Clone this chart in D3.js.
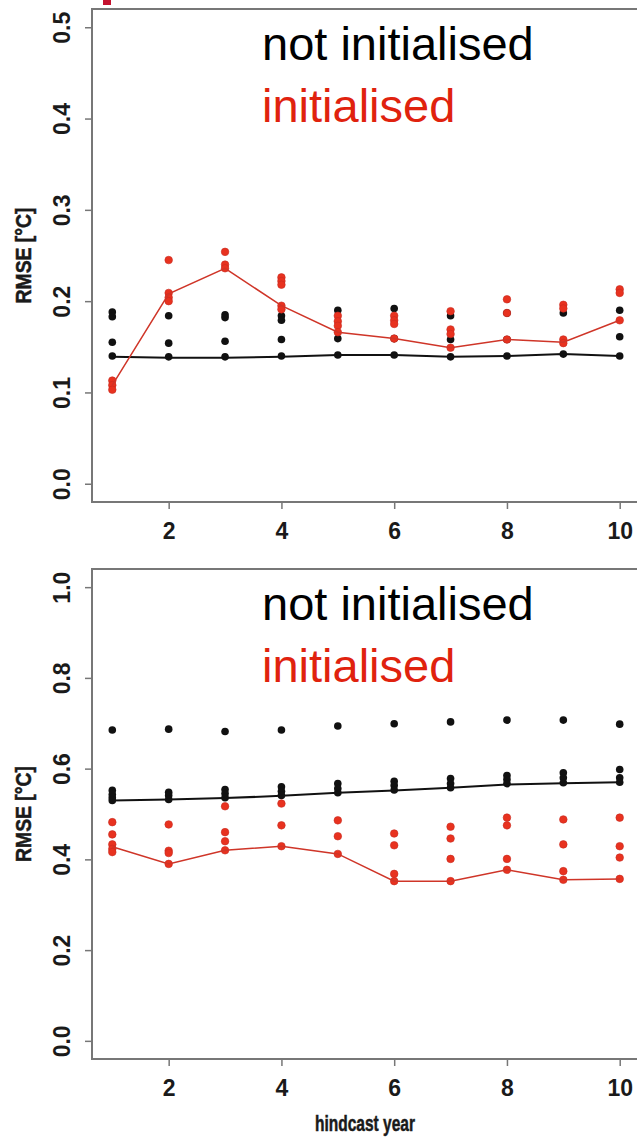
<!DOCTYPE html>
<html>
<head>
<meta charset="utf-8">
<script src="https://cdn.jsdelivr.net/npm/d3@7"></script>
<style>
  body { margin: 0; background: #fff; }
  svg { display: block; font-family: "Liberation Sans", Arial, sans-serif; }
</style>
</head>
<body>
<div id="chart"></div>
<script>
// Hindcast years and tick labels
const years = [1, 2, 3, 4, 5, 6, 7, 8, 9, 10];
const xTicks = [2, 4, 6, 8, 10];
const topYTicks = [0, 0.1, 0.2, 0.3, 0.4, 0.5];
const bottomYTicks = [0, 0.2, 0.4, 0.6, 0.8, 1.0];

// Top panel: lines and individual points per year
const topBlackLine = [0.139, 0.138, 0.138, 0.139, 0.141, 0.141, 0.139, 0.140, 0.142, 0.140];
const topRedLine = [0.108, 0.208, 0.236, 0.195, 0.166, 0.159, 0.149, 0.158, 0.155, 0.179];
const topBlackDots = [
    [0.188, 0.183, 0.155, 0.140],
    [0.184, 0.154, 0.139],
    [0.185, 0.182, 0.156, 0.139],
    [0.184, 0.179, 0.158, 0.140],
    [0.190, 0.159, 0.141],
    [0.192, 0.159, 0.141],
    [0.184, 0.158, 0.139],
    [0.187, 0.158, 0.140],
    [0.187, 0.142],
    [0.190, 0.161, 0.140]
];
const topRedDots = [
    [0.113, 0.108, 0.103],
    [0.245, 0.209, 0.204, 0.200],
    [0.254, 0.240, 0.236],
    [0.226, 0.222, 0.218, 0.195, 0.191],
    [0.184, 0.178, 0.173, 0.166],
    [0.184, 0.179, 0.175, 0.159],
    [0.189, 0.169, 0.164, 0.149],
    [0.202, 0.187, 0.158],
    [0.196, 0.192, 0.158, 0.154],
    [0.213, 0.209, 0.179]
];

// Bottom panel
const bottomBlackLine = [0.530, 0.532, 0.535, 0.540, 0.547, 0.552, 0.558, 0.565, 0.568, 0.570];
const bottomRedLine = [0.428, 0.390, 0.420, 0.429, 0.412, 0.352, 0.352, 0.377, 0.355, 0.357];
const bottomBlackDots = [
    [0.685, 0.552, 0.543, 0.536, 0.530],
    [0.687, 0.548, 0.541, 0.532],
    [0.682, 0.554, 0.545, 0.536],
    [0.685, 0.560, 0.550, 0.541],
    [0.694, 0.567, 0.556, 0.547],
    [0.699, 0.572, 0.563, 0.553],
    [0.703, 0.578, 0.567, 0.558],
    [0.707, 0.585, 0.576, 0.567],
    [0.707, 0.591, 0.580, 0.569],
    [0.698, 0.598, 0.580, 0.570]
];
const bottomRedDots = [
    [0.482, 0.455, 0.433, 0.423, 0.416],
    [0.477, 0.419, 0.414, 0.390],
    [0.517, 0.460, 0.440, 0.420],
    [0.523, 0.475, 0.429],
    [0.486, 0.451, 0.412],
    [0.457, 0.431, 0.368, 0.352],
    [0.472, 0.446, 0.401, 0.352],
    [0.492, 0.475, 0.401, 0.377],
    [0.488, 0.433, 0.374, 0.355],
    [0.492, 0.429, 0.404, 0.357]
];

const W = 637, H = 1137;
const svg = d3.select("#chart").append("svg")
    .attr("width", W)
    .attr("height", H);

// small red mark cut off at the top edge
svg.append("rect")
    .attr("x", 103).attr("y", 0)
    .attr("width", 8).attr("height", 5)
    .attr("fill", "#c4122f");

const x = d3.scaleLinear().domain([0.64, 10.36]).range([92, 640]);

function drawPanel(opt) {
    const y = d3.scaleLinear().domain(opt.domain).range([opt.bottom, opt.top]);
    const g = svg.append("g");

    // y axis with rotated labels
    const yAxis = g.append("g")
        .attr("transform", `translate(${x.range()[0]},0)`)
        .call(d3.axisLeft(y).tickValues(opt.yTicks).tickSize(7).tickFormat(d3.format(".1f")));
    yAxis.select(".domain").remove();
    yAxis.selectAll(".tick line").attr("stroke", "#777").attr("stroke-width", 1.5);
    yAxis.selectAll(".tick text")
        .attr("transform", "rotate(-90)")
        .attr("x", 0).attr("y", -22).attr("dy", null)
        .attr("text-anchor", "middle")
        .attr("font-size", 23).attr("font-weight", "bold").attr("fill", "#1a1a1a");

    // x axis
    const xAxis = g.append("g")
        .attr("transform", `translate(0,${opt.bottom})`)
        .call(d3.axisBottom(x).tickValues(xTicks).tickSize(7).tickFormat(d3.format("d")));
    xAxis.select(".domain").remove();
    xAxis.selectAll(".tick line").attr("stroke", "#777").attr("stroke-width", 1.5);
    xAxis.selectAll(".tick text")
        .attr("y", 37).attr("dy", null)
        .attr("font-size", 23).attr("font-weight", "bold").attr("fill", "#1a1a1a");

    // plot box
    g.append("rect")
        .attr("x", x.range()[0]).attr("y", opt.top)
        .attr("width", x.range()[1] - x.range()[0])
        .attr("height", opt.bottom - opt.top)
        .attr("fill", "none").attr("stroke", "#777").attr("stroke-width", 2);

    // y title (narrow bold face in the original)
    g.append("text")
        .attr("transform", `translate(31,${(opt.top + opt.bottom) / 2}) rotate(-90)`)
        .attr("text-anchor", "middle")
        .attr("font-size", 22).attr("font-weight", "bold").attr("fill", "#1a1a1a")
        .attr("stroke", "#1a1a1a").attr("stroke-width", 0.5)
        .attr("textLength", 96).attr("lengthAdjust", "spacingAndGlyphs")
        .text("RMSE [°C]");

    const line = d3.line().x((d, i) => x(years[i])).y(d => y(d));

    const flat = dots => dots.flatMap((vals, i) => vals.map(v => ({ yr: years[i], v })));

    g.append("g").selectAll("circle")
        .data(flat(opt.blackDots)).join("circle")
        .attr("cx", d => x(d.yr)).attr("cy", d => y(d.v))
        .attr("r", 3.8).attr("fill", "#111");

    g.append("path")
        .attr("d", line(opt.blackLine))
        .attr("fill", "none").attr("stroke", "#111").attr("stroke-width", 2);

    g.append("g").selectAll("circle")
        .data(flat(opt.redDots)).join("circle")
        .attr("cx", d => x(d.yr)).attr("cy", d => y(d.v))
        .attr("r", 3.8).attr("fill", "#e8321f")
        .attr("stroke", "#c82a20").attr("stroke-width", 0.6);

    g.append("path")
        .attr("d", line(opt.redLine))
        .attr("fill", "none").attr("stroke", "#cf3528").attr("stroke-width", 1.5);

    // legend text
    g.append("text")
        .attr("x", 262).attr("y", opt.top + 51)
        .attr("font-size", 47).attr("fill", "#000")
        .text("not initialised");
    g.append("text")
        .attr("x", 262).attr("y", opt.top + 113)
        .attr("font-size", 47).attr("fill", "#e0220e")
        .text("initialised");
}

drawPanel({
    top: 9, bottom: 502, domain: [-0.02, 0.52], yTicks: topYTicks,
    blackDots: topBlackDots, redDots: topRedDots,
    blackLine: topBlackLine, redLine: topRedLine
});

drawPanel({
    top: 569, bottom: 1059, domain: [-0.04, 1.04], yTicks: bottomYTicks,
    blackDots: bottomBlackDots, redDots: bottomRedDots,
    blackLine: bottomBlackLine, redLine: bottomRedLine
});

svg.append("text")
    .attr("x", 365).attr("y", 1131)
    .attr("text-anchor", "middle")
    .attr("font-size", 22).attr("font-weight", "bold").attr("fill", "#1a1a1a")
    .attr("stroke", "#1a1a1a").attr("stroke-width", 0.5)
    .attr("textLength", 100).attr("lengthAdjust", "spacingAndGlyphs")
    .text("hindcast year");
</script>
</body>
</html>
